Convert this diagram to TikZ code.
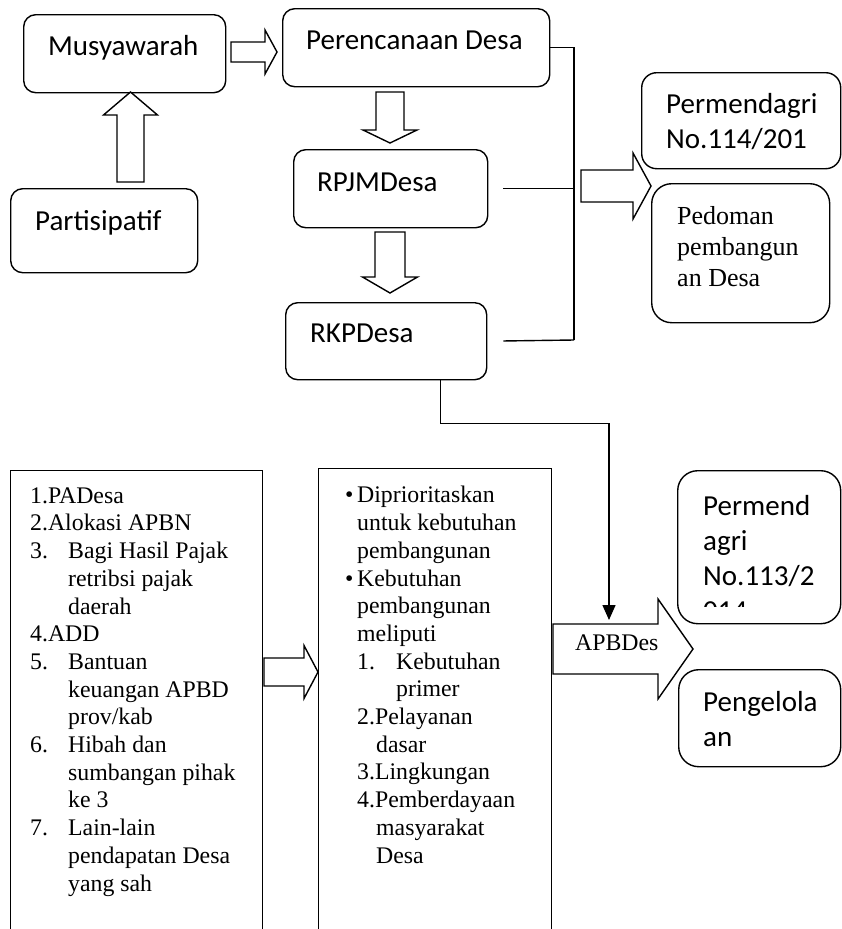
\documentclass[tikz,border=0pt]{standalone}
\usepackage{fontspec}
\setmainfont{Liberation Serif}
\newfontfamily\calibri{Carlito}
\usetikzlibrary{arrows.meta}
% #1 turn, #2 tail, #3 length, #4 half shaft, #5 half head, #6 head length
\newcommand\fatarrow[6]{\draw[fat, shift={(#2)}, rotate=#1] (0,-#4) -- ({#3-#6},-#4) -- ({#3-#6},-#5) -- (#3,0) -- ({#3-#6},#5) -- ({#3-#6},#4) -- (0,#4) -- cycle;}
\begin{document}
\begin{tikzpicture}[x=1pt,y=-1pt]
            \tikzstyle{box}=[draw, line width=1.4pt, rounded corners=12pt, inner sep=0pt, anchor=north west]
            \tikzstyle{listbox}=[draw, line width=1.4pt, inner sep=0pt, anchor=north west]
            \tikzstyle{label}=[inner sep=0pt, anchor=base west, align=left, font=\calibri\fontsize{29}{35}\selectfont]
            \tikzstyle{serif}=[inner sep=0pt, anchor=base west, align=left, font=\fontsize{23.8}{27.7}\selectfont]
            \tikzstyle{fat}=[draw, line width=1.4pt, fill=white, line join=miter]
            \tikzstyle{line}=[line width=1.4pt]

            \useasboundingbox (0,0) rectangle (842,929);

            \node[box, minimum width=202pt, minimum height=78pt] (musy) at (23,14) {};
            \node[box, minimum width=187pt, minimum height=84pt] (part) at (10,188) {};
            \node[box, minimum width=267pt, minimum height=78pt] (peren) at (282,8) {};
            \node[box, minimum width=194pt, minimum height=78pt] (rpjm) at (293,149) {};
            \node[box, minimum width=201pt, minimum height=77pt] (rkp) at (285,302) {};
            \node[box, rounded corners=15pt, minimum width=199pt, minimum height=96pt] (perm) at (641,72) {};
            \node[box, rounded corners=20pt, minimum width=178pt, minimum height=139pt] (pedo) at (651,183) {};
            \node[box, rounded corners=20pt, minimum width=163pt, minimum height=153pt] (permb) at (677,470) {};
            \node[box, rounded corners=20pt, minimum width=162pt, minimum height=97pt] (peng) at (678,669) {};
            \node[listbox, minimum width=252pt, minimum height=480pt] (src) at (10,470) {};
            \node[listbox, minimum width=233pt, minimum height=480pt] (prio) at (318,468) {};

            \node[label] (tmusy) at (48,55) {Musyawarah};
            \node[label] (tpart) at (35,230) {Partisipatif};
            \node[label] (tperen) at (306,49) {Perencanaan Desa};
            \node[label] (trpjm) at (317,191) {RPJMDesa};
            \node[label] (trkp) at (310,342) {RKPDesa};
            \node[label] (tperm) at (666,148) {Permendagri\\No.114/201};
            \node[serif, font=\fontsize{26}{31}\selectfont] (tpedo) at (677,286) {Pedoman\\pembangun\\an Desa};
            \node[label] (tpermb) at (703,585) {Permend\\agri\\No.113/2};
            \begin{scope}
                \clip (680,590) rectangle (830,606);
                \node[label] (tmore) at (703,620) {014};
            \end{scope}
            \node[label] (tpeng) at (703,746) {Pengelola\\an};

            \node[serif] (tsrc) at (30,891) {1.PADesa\\2.Alokasi APBN\\\makebox[38pt][l]{3.}Bagi Hasil Pajak\\\hspace*{38pt}retribsi pajak\\\hspace*{38pt}daerah\\4.ADD\\\makebox[38pt][l]{5.}Bantuan\\\hspace*{38pt}keuangan APBD\\\hspace*{38pt}prov/kab\\\makebox[38pt][l]{6.}Hibah dan\\\hspace*{38pt}sumbangan pihak\\\hspace*{38pt}ke 3\\\makebox[38pt][l]{7.}Lain-lain\\\hspace*{38pt}pendapatan Desa\\\hspace*{38pt}yang sah};
            \node[serif] (tprio) at (345,863) {\makebox[12pt][l]{\textbullet}Diprioritaskan\\\hspace*{12pt}untuk kebutuhan\\\hspace*{12pt}pembangunan\\\makebox[12pt][l]{\textbullet}Kebutuhan\\\hspace*{12pt}pembangunan\\\hspace*{12pt}meliputi\\\hspace*{12pt}\makebox[39pt][l]{1.}Kebutuhan\\\hspace*{51pt}primer\\\hspace*{12pt}2.Pelayanan\\\hspace*{31pt}dasar\\\hspace*{12pt}3.Lingkungan\\\hspace*{12pt}4.Pemberdayaan\\\hspace*{31pt}masyarakat\\\hspace*{31pt}Desa};

            \fatarrow{0}{231,52}{46}{10}{22}{12}
            \fatarrow{90}{130.5,182}{90}{13.5}{27}{23}
            \fatarrow{-90}{390,92}{51}{14}{27}{13}
            \fatarrow{-90}{390,232}{61}{15}{27.5}{16}
            \fatarrow{0}{581,186}{70}{16}{33}{18}
            \fatarrow{0}{264,672}{54}{14}{26.5}{14}
            \fatarrow{0}{553,649}{140}{25}{50}{35}
            \node[serif] (tapb) at (575,650) {APBDes};

            \coordinate (jn) at (574,340);
            \coordinate (hit) at (609,620);
            \draw[line] (peren.east) -| (jn);
            \draw[line, shorten <=15pt] (rpjm.east) -- (rpjm.east -| jn);
            \draw[line, shorten <=16pt] (rkp.east) -- (jn);
            \draw[line, -{Triangle[width=13pt, length=15pt]}] ([xshift=54.5pt]rkp.south) -- ++(0,43) -| (hit);
        \end{tikzpicture}
\end{document}
